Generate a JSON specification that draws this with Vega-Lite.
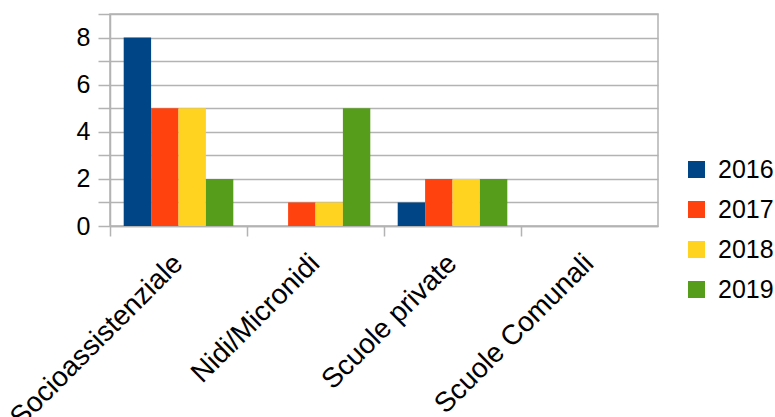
{
  "$schema": "https://vega.github.io/schema/vega-lite/v6.json",
  "width": 548,
  "height": 212,
  "autosize": {"type": "none"},
  "padding": {"left": 110, "top": 14, "right": 117, "bottom": 191},
  "background": "white",
  "config": {
    "font": "Liberation Sans",
    "view": {"stroke": "#b3b3b3", "strokeWidth": 1.5}
  },
  "data": {
    "values": [
      {"categoria": "Socioassistenziale", "anno": "2016", "valore": 8},
      {"categoria": "Socioassistenziale", "anno": "2017", "valore": 5},
      {"categoria": "Socioassistenziale", "anno": "2018", "valore": 5},
      {"categoria": "Socioassistenziale", "anno": "2019", "valore": 2},
      {"categoria": "Nidi/Micronidi", "anno": "2016", "valore": 0},
      {"categoria": "Nidi/Micronidi", "anno": "2017", "valore": 1},
      {"categoria": "Nidi/Micronidi", "anno": "2018", "valore": 1},
      {"categoria": "Nidi/Micronidi", "anno": "2019", "valore": 5},
      {"categoria": "Scuole private", "anno": "2016", "valore": 1},
      {"categoria": "Scuole private", "anno": "2017", "valore": 2},
      {"categoria": "Scuole private", "anno": "2018", "valore": 2},
      {"categoria": "Scuole private", "anno": "2019", "valore": 2},
      {"categoria": "Scuole Comunali", "anno": "2016", "valore": 0},
      {"categoria": "Scuole Comunali", "anno": "2017", "valore": 0},
      {"categoria": "Scuole Comunali", "anno": "2018", "valore": 0},
      {"categoria": "Scuole Comunali", "anno": "2019", "valore": 0}
    ]
  },
  "mark": {"type": "bar"},
  "encoding": {
    "x": {
      "field": "categoria",
      "type": "nominal",
      "sort": ["Socioassistenziale", "Nidi/Micronidi", "Scuole private", "Scuole Comunali"],
      "scale": {"paddingInner": 0, "paddingOuter": 0},
      "axis": {
        "title": null,
        "labelAngle": -45,
        "labelAlign": "right",
        "labelBaseline": "middle",
        "labelFontSize": 28,
        "labelColor": "#000000",
        "labelPadding": 23,
        "labelLimit": 400,
        "labelOverlap": false,
        "bandPosition": 0,
        "tickSize": 10,
        "tickColor": "#b3b3b3",
        "tickWidth": 1.5,
        "domainColor": "#b3b3b3",
        "domainWidth": 1.5,
        "grid": false
      }
    },
    "xOffset": {
      "field": "anno",
      "type": "nominal",
      "scale": {"paddingInner": 0, "paddingOuter": 0.5}
    },
    "y": {
      "field": "valore",
      "type": "quantitative",
      "scale": {"domain": [0, 9], "nice": false},
      "axis": {
        "title": null,
        "values": [0, 1, 2, 3, 4, 5, 6, 7, 8, 9],
        "labelExpr": "datum.value % 2 == 0 && datum.value < 9 ? datum.label : ''",
        "labelFontSize": 25,
        "labelColor": "#000000",
        "labelPadding": 8,
        "tickSize": 12,
        "tickColor": "#b3b3b3",
        "tickWidth": 1.5,
        "domainColor": "#b3b3b3",
        "domainWidth": 1.5,
        "gridColor": "#b3b3b3",
        "gridWidth": 1.5,
        "gridOpacity": 1
      }
    },
    "color": {
      "field": "anno",
      "type": "nominal",
      "scale": {"domain": ["2016", "2017", "2018", "2019"], "range": ["#004586", "#ff420e", "#ffd320", "#579d1c"]},
      "legend": {
        "title": null,
        "orient": "none",
        "legendX": 574,
        "legendY": 143,
        "symbolType": "square",
        "symbolSize": 289,
        "symbolStrokeWidth": 0,
        "labelFontSize": 25,
        "labelColor": "#000000",
        "labelOffset": 9,
        "rowPadding": 14
      }
    }
  }
}
